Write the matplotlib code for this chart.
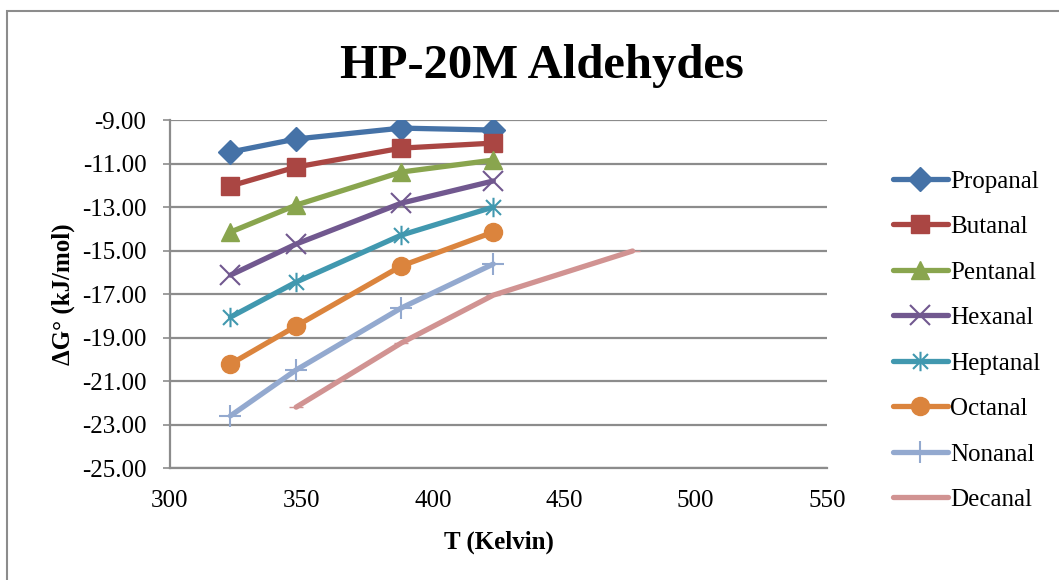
import numpy as np
import matplotlib
matplotlib.use("Agg")
import matplotlib.pyplot as plt
from matplotlib.path import Path
from matplotlib.patches import Rectangle

plt.rcParams["font.family"] = ["Liberation Serif", "DejaVu Serif"]

temps = [323, 348, 388, 423]
temps_decanal = [348, 388, 423, 476]

propanal = [-10.47, -9.87, -9.37, -9.46]
butanal = [-12.03, -11.16, -10.29, -10.06]
pentanal = [-14.15, -12.91, -11.39, -10.84]
hexanal = [-16.13, -14.70, -12.82, -11.80]
heptanal = [-18.06, -16.45, -14.29, -13.00]
octanal = [-20.22, -18.47, -15.71, -14.15]
nonanal = [-22.60, -20.49, -17.64, -15.62]
decanal = [-22.20, -19.25, -17.05, -15.02]

names = ["Propanal", "Butanal", "Pentanal", "Hexanal", "Heptanal",
         "Octanal", "Nonanal", "Decanal"]
colors = ["#4572A7", "#AA4643", "#89A54E", "#71588F", "#4198AF",
          "#DB843D", "#93A9CF", "#D19392"]

# excel style asterisk: x with a vertical bar
star = Path([(-1, -1), (1, 1), (-1, 1), (1, -1), (0, -1.3), (0, 1.3)],
            [Path.MOVETO, Path.LINETO, Path.MOVETO, Path.LINETO,
             Path.MOVETO, Path.LINETO])

markers = ["D", "s", "^", "x", star, "o", "+", "_"]
msizes = [12, 13, 13, 14, 14, 13, 16, 10]

series = [propanal, butanal, pentanal, hexanal, heptanal, octanal, nonanal, decanal]

fig = plt.figure(figsize=(10.59, 5.8), dpi=100)
ax = fig.add_axes([0.1605, 0.193, 0.6205, 0.600])

for i, (name, vals) in enumerate(zip(names, series)):
    xs = temps_decanal if name == "Decanal" else temps
    ax.plot(xs, vals, color=colors[i], lw=3.8, marker=markers[i],
            markersize=msizes[i], markeredgewidth=1.5 if i in (3, 4, 6) else 1,
            markeredgecolor=colors[i], label=name, solid_capstyle="round",
            solid_joinstyle="round")

ax.set_xlim(300, 550)
ax.set_ylim(-25, -9)
ax.set_xticks(np.arange(300, 551, 50))
ax.set_yticks(np.arange(-25, -8.9, 2))
ax.yaxis.set_major_formatter(matplotlib.ticker.FormatStrFormatter("%.2f"))
ax.grid(axis="y", color="#8c8c8c", lw=1.6)
ax.set_axisbelow(True)
for s in ["top", "right"]:
    ax.spines[s].set_visible(False)
for s in ["left", "bottom"]:
    ax.spines[s].set_color("#8c8c8c")
    ax.spines[s].set_linewidth(1.6)
ax.tick_params(axis="y", length=5, color="#8c8c8c", width=1.2, labelsize=18, pad=12)
ax.tick_params(axis="x", length=0, labelsize=18, pad=16)

ax.set_xlabel("T (Kelvin)", fontsize=18, fontweight="bold", labelpad=13)
ax.set_ylabel("ΔG° (kJ/mol)", fontsize=18, fontweight="bold", labelpad=5)
fig.text(0.512, 0.886, "HP-20M Aldehydes", ha="center", va="center",
         fontsize=35, fontweight="bold")

leg = ax.legend(loc="upper left", bbox_to_anchor=(1.085, 0.885), frameon=False,
                fontsize=18, labelspacing=0.92, handlelength=2.2,
                handletextpad=0.1, borderaxespad=0)

fig.patches.append(Rectangle((7 / 1059, -0.1), 1.2, 1 - 11 / 580 + 0.1,
                             transform=fig.transFigure, fill=False,
                             edgecolor="#8c8c8c", lw=1.5))

fig.savefig("out.png", dpi=100)
